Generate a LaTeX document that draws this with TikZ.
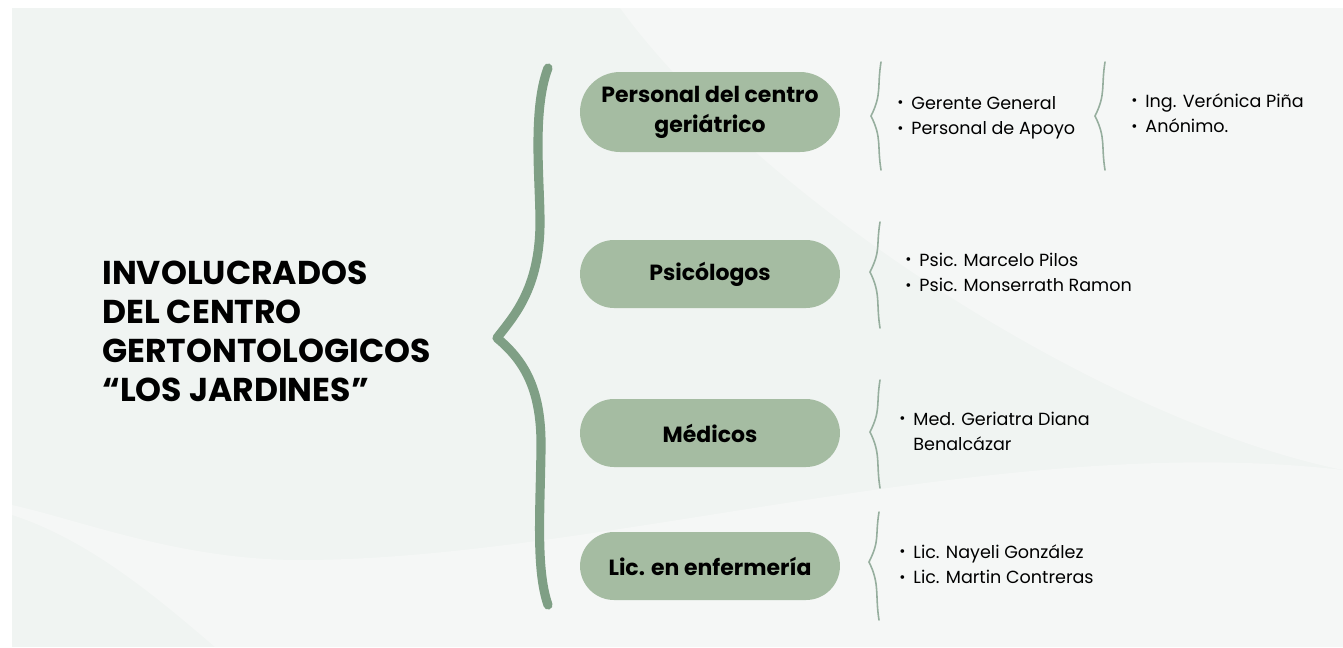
\documentclass[tikz,border=0pt]{standalone}
\usepackage{fontspec}
\setmainfont{Poppins}
\usetikzlibrary{positioning}
\definecolor{sage}{RGB}{165,188,162}
\definecolor{bracegreen}{RGB}{127,159,133}
\definecolor{thinbrace}{RGB}{150,174,158}
\definecolor{bgtint}{RGB}{240,244,242}
\definecolor{bglight}{RGB}{245,247,246}
\newcommand{\dotm}{\raisebox{0.1em}{\fontsize{8.5}{8.5}\selectfont\textbullet}}

\begin{document}
\begin{tikzpicture}[x=0.02cm,y=-0.02cm,
    pill/.style={fill=sage, rounded corners=0.68cm, minimum width=5.2cm,
      minimum height=1.36cm, align=center, inner sep=0pt,
      font=\fontsize{12.5}{17}\selectfont\bfseries},
    items/.style={anchor=west, inner sep=0pt, font=\fontsize{10}{14.6}\selectfont},
    sbrace/.style={thinbrace, line width=0.9pt, line cap=round}]
  \useasboundingbox (0,0) rectangle (1343,647);

  % background
  \fill[white] (0,0) rectangle (1343,647);
  \fill[bgtint] (12,8) rectangle (1343,647);
  \fill[bglight] (620,8) .. controls (760,200) and (1100,420) .. (1343,470) -- (1343,8) -- cycle;
  \fill[bglight] (12,515) .. controls (90,540) and (160,600) .. (215,647) -- (1343,647) -- (1343,470)
    .. controls (1000,430) and (600,560) .. (300,560) .. controls (180,560) and (80,520) .. (12,505) -- cycle;

  % title
  \node[anchor=west, align=left, inner sep=0pt,
    font=\fontsize{18.8}{22.2}\selectfont\bfseries] (title) at (102,331)
    {INVOLUCRADOS\\DEL CENTRO\\GERTONTOLOGICOS\\“LOS JARDINES”};

  % big brace
  \draw[bracegreen, line width=5.2pt, line cap=round, line join=round]
    (548,68) .. controls (532,110) and (540,180) .. (540,222)
    .. controls (540,290) and (512,318) .. (497,338)
    .. controls (526,362) and (542,392) .. (541,450)
    .. controls (540,515) and (536,570) .. (548,605);

  % categories
  \node[pill, minimum height=1.6cm, rounded corners=0.8cm] (pers) at (710,112)
    {Personal del centro\\geriátrico};
  \node[pill] (psic) at (710,274) {Psicólogos};
  \node[pill] (med) at (710,433) {Médicos};
  \node[pill] (lic) at (710,566) {Lic. en enfermería};

  % small braces
  \foreach \bx/\ya/\yt/\yb in {881/62/116/170, 1105/62/116/170, 880/222/272/328,
      880/380/432/488, 879/512/562/620}{
    \draw[sbrace] (\bx,\ya) .. controls (\bx-4,\ya+25) and (\bx+1,\yt-22) .. (\bx-10,\yt)
      .. controls (\bx+1,\yt+22) and (\bx-4,\yb-25) .. (\bx,\yb);
  }

  % members
  \node[items] (persl) at (897,117) {\begin{tabular}{@{}l@{\hspace{0.45em}}l@{}}
    \dotm & Gerente General\\ \dotm & Personal de Apoyo\end{tabular}};
  \node[items] (persn) at (1131,115) {\begin{tabular}{@{}l@{\hspace{0.45em}}l@{}}
    \dotm & Ing. Verónica Piña\\ \dotm & Anónimo.\end{tabular}};
  \node[items] (psicl) at (905,274) {\begin{tabular}{@{}l@{\hspace{0.45em}}l@{}}
    \dotm & Psic. Marcelo Pilos\\ \dotm & Psic. Monserrath Ramon\end{tabular}};
  \node[items] (medl) at (899,433) {\begin{tabular}{@{}l@{\hspace{0.45em}}l@{}}
    \dotm & Med. Geriatra Diana\\ & Benalcázar\end{tabular}};
  \node[items] (licl) at (899,566) {\begin{tabular}{@{}l@{\hspace{0.45em}}l@{}}
    \dotm & Lic. Nayeli González\\ \dotm & Lic. Martin Contreras\end{tabular}};
\end{tikzpicture}
\end{document}
